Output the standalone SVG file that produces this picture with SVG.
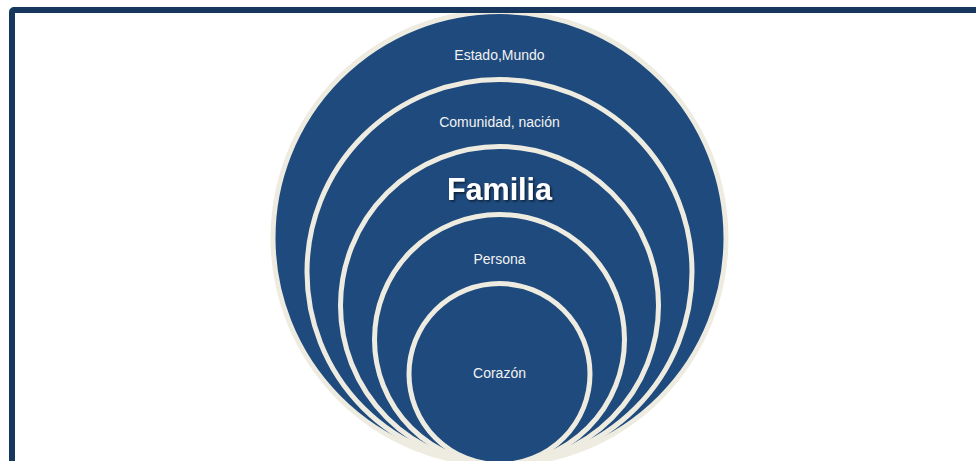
<svg xmlns="http://www.w3.org/2000/svg" width="976" height="461" viewBox="0 0 976 461">
<defs>
<filter id="shadow" x="-20%" y="-30%" width="140%" height="160%">
<feDropShadow dx="1.5" dy="1.5" stdDeviation="1.2" flood-color="#000" flood-opacity="0.6"/>
</filter>
<style>
.ring{fill:#1F4A7D;stroke:#EEECE1;stroke-width:5}
.lbl{font-family:"Liberation Sans",Arial,sans-serif;font-size:14px;fill:#F2F2F2;text-anchor:middle}
.big{font-family:"Liberation Sans",Arial,sans-serif;font-size:30.5px;font-weight:bold;fill:#FFFFFF;text-anchor:middle}
</style>
</defs>
<rect width="976" height="461" fill="#FFFFFF"/>
<g id="estado-mundo">
<circle class="ring" cx="499.5" cy="238" r="226.5"/>
<text class="lbl" x="499.5" y="60">Estado,Mundo</text>
</g>
<g id="comunidad-nacion">
<circle class="ring" cx="499.5" cy="272" r="192.5"/>
<text class="lbl" x="499.5" y="127">Comunidad, nación</text>
</g>
<g id="familia">
<circle class="ring" cx="499.5" cy="305.5" r="159"/>
<text class="big" x="499.5" y="200" filter="url(#shadow)">Familia</text>
</g>
<g id="persona">
<circle class="ring" cx="499.5" cy="339.5" r="125"/>
<text class="lbl" x="499.5" y="264">Persona</text>
</g>
<g id="corazon">
<circle class="ring" cx="499.5" cy="374" r="90.5"/>
<text class="lbl" x="499.5" y="378">Corazón</text>
</g>
<g id="connectors"/>
<g id="frame">
<rect x="12" y="10" width="1000" height="500" rx="2" fill="none" stroke="#17375E" stroke-width="6"/>
</g>
</svg>
